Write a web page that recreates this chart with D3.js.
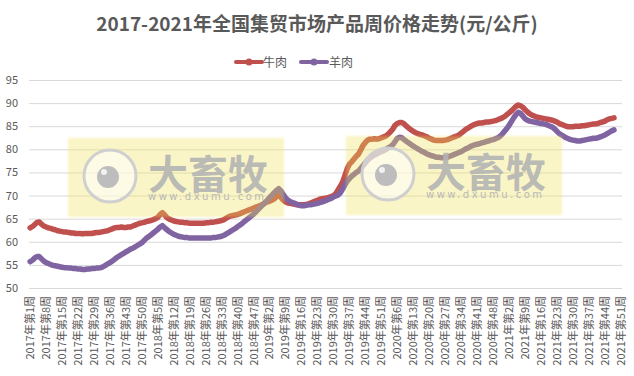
<!DOCTYPE html>
<html><head><meta charset="utf-8">
<script src="https://cdn.jsdelivr.net/npm/d3@7"></script>
<style>body{margin:0;background:#fff}svg{display:block}</style>
</head><body>
<svg id="c" width="634" height="376"></svg>
<script>
const title = "2017-2021年全国集贸市场产品周价格走势(元/公斤)";
const years = [2017, 2018, 2019, 2020, 2021];
const weeksInYear = [52, 52, 52, 53, 51];
const seriesNames = ["牛肉", "羊肉"];
const seriesColors = ["#C0504D", "#8064A2"];
const yTicks = [50, 55, 60, 65, 70, 75, 80, 85, 90, 95];
const labelStep = 7;
const watermarkText = "大畜牧";
const watermarkUrl = "www.dxumu.com";

const beef = [
63.0,63.3,63.7,64.2,64.3,63.8,63.4,63.2,63.0,62.9,62.7,62.6,62.4,62.3,62.2,62.1,62.1,62.0,61.9,61.9,
61.8,61.8,61.8,61.7,61.8,61.8,61.8,61.8,61.9,62.0,62.0,62.1,62.2,62.3,62.4,62.6,62.8,63.0,63.1,63.1,
63.2,63.1,63.1,63.2,63.2,63.4,63.6,63.8,64.0,64.1,64.2,64.4,64.5,64.6,64.8,65.0,65.3,65.9,66.3,65.8,
65.2,64.9,64.7,64.5,64.4,64.3,64.2,64.2,64.1,64.1,64.0,64.0,64.0,64.0,64.0,64.0,64.0,64.1,64.1,64.2,
64.2,64.3,64.4,64.5,64.6,64.8,65.1,65.4,65.6,65.7,65.8,65.9,66.1,66.3,66.5,66.7,66.9,67.1,67.3,67.5,
67.7,67.9,68.1,68.4,68.6,68.8,69.0,69.3,69.7,70.1,69.6,69.0,68.6,68.4,68.3,68.2,68.1,68.0,68.0,68.0,
68.0,68.1,68.2,68.4,68.6,68.8,69.0,69.2,69.3,69.4,69.5,69.6,69.8,70.0,70.4,71.2,72.0,72.9,74.3,75.8,
76.8,77.3,77.9,78.5,79.0,79.9,80.9,81.5,82.0,82.2,82.2,82.3,82.2,82.3,82.5,82.7,82.9,83.3,83.8,84.4,
85.2,85.6,85.8,85.8,85.5,85.0,84.6,84.2,83.9,83.6,83.4,83.2,83.1,82.9,82.7,82.4,82.2,82.0,81.9,81.9,
81.9,81.9,82.0,82.1,82.3,82.5,82.7,82.9,83.1,83.5,83.9,84.3,84.6,84.9,85.2,85.4,85.6,85.7,85.7,85.8,
85.9,85.9,86.0,86.1,86.2,86.4,86.6,86.8,87.1,87.5,87.9,88.3,88.8,89.3,89.6,89.4,89.1,88.6,88.1,87.7,
87.4,87.2,87.0,86.9,86.8,86.7,86.6,86.5,86.4,86.3,86.1,85.9,85.6,85.4,85.2,85.0,84.9,84.9,84.9,85.0,
85.0,85.0,85.1,85.1,85.2,85.3,85.4,85.5,85.5,85.6,85.8,85.9,86.1,86.4,86.6,86.7,86.8
];
const mutton = [
55.7,56.0,56.5,56.8,56.8,56.3,55.8,55.5,55.3,55.1,54.9,54.8,54.7,54.6,54.5,54.4,54.4,54.3,54.3,54.2,
54.2,54.1,54.1,54.0,54.0,54.1,54.1,54.2,54.2,54.3,54.3,54.4,54.6,54.9,55.2,55.5,55.8,56.2,56.6,56.9,
57.2,57.5,57.8,58.1,58.4,58.6,58.9,59.2,59.5,59.8,60.3,60.8,61.1,61.5,61.9,62.3,62.7,63.2,63.5,63.0,
62.6,62.2,61.9,61.6,61.4,61.2,61.1,61.0,60.9,60.9,60.8,60.8,60.8,60.8,60.8,60.8,60.8,60.8,60.8,60.8,
60.9,60.9,61.0,61.1,61.2,61.4,61.7,62.0,62.3,62.6,62.9,63.3,63.6,64.0,64.4,64.8,65.2,65.6,66.0,66.5,
67.0,67.5,68.0,68.5,69.0,69.6,70.1,70.6,71.1,71.5,71.0,70.2,69.5,69.0,68.7,68.5,68.3,68.1,67.9,67.8,
67.8,67.9,68.0,68.0,68.1,68.2,68.3,68.5,68.6,68.8,69.0,69.2,69.4,69.7,69.9,70.1,70.6,71.4,72.3,73.1,
73.7,74.2,74.6,75.0,75.3,75.9,76.5,77.1,77.7,78.1,78.5,78.8,79.0,79.3,79.5,79.7,80.0,80.3,80.6,81.0,
81.7,82.4,82.6,82.5,82.1,81.7,81.4,81.0,80.7,80.4,80.1,79.8,79.5,79.3,79.0,78.8,78.6,78.5,78.3,78.3,
78.2,78.2,78.3,78.3,78.5,78.7,78.9,79.1,79.3,79.5,79.8,80.1,80.3,80.6,80.8,81.0,81.1,81.2,81.4,81.5,
81.7,81.8,82.0,82.1,82.3,82.5,82.8,83.3,83.9,84.5,85.2,86.0,86.8,87.5,88.0,87.8,87.2,86.6,86.3,86.1,
86.0,85.9,85.8,85.7,85.6,85.5,85.4,85.2,85.0,84.8,84.4,83.9,83.4,83.1,82.8,82.5,82.3,82.1,82.0,81.9,
81.8,81.8,81.9,82.0,82.1,82.2,82.3,82.4,82.4,82.5,82.7,82.9,83.1,83.4,83.7,84.0,84.2
];

// categories: 2017年第1周 ... 2021年第51周
const categories = [];
years.forEach((y, k) => { for (let w = 1; w <= weeksInYear[k]; w++) categories.push(y + "年第" + w + "周"); });

const svg = d3.select("#c");
const W = 634, H = 376;
const plot = {left: 29, right: 622, top: 80, bottom: 288};
const cjk = "'Noto Sans CJK SC','Noto Sans',sans-serif";
const textColor = "#595959";

const x = d3.scaleBand().domain(categories).range([plot.left, plot.right]);
const xc = c => x(c) + x.bandwidth() / 2;
const y = d3.scaleLinear().domain([50, 95]).range([plot.bottom, plot.top]);

// title
svg.append("text").attr("x", W / 2).attr("y", 31).attr("text-anchor", "middle")
  .attr("font-family", cjk).attr("font-weight", "bold").attr("font-size", 19)
  .attr("fill", textColor).text(title);

// gridlines + y axis
const yAxis = d3.axisLeft(y).tickValues(yTicks).tickSize(-(plot.right - plot.left)).tickPadding(11);
const gy = svg.append("g").attr("transform", `translate(${plot.left},0)`).call(yAxis);
gy.select(".domain").remove();
gy.selectAll(".tick line").attr("stroke", "#d9d9d9").attr("stroke-width", 1);
gy.selectAll(".tick text").attr("font-family", cjk).attr("font-size", 11).attr("fill", textColor);

// x axis labels
const xTickVals = categories.filter((d, i) => i % labelStep === 0);
const xAxis = d3.axisBottom(x).tickValues(xTickVals).tickSize(0).tickPadding(0);
const gx = svg.append("g").attr("transform", `translate(0,${plot.bottom})`).call(xAxis);
gx.select(".domain").remove();
gx.selectAll(".tick text")
  .attr("font-family", cjk).attr("font-size", 11).attr("fill", textColor)
  .attr("text-anchor", "end")
  .attr("transform", "translate(0,8) rotate(-90)")
  .attr("dx", 0).attr("dy", "0.35em").attr("y", 0).attr("x", 0);

// lines
const series = [beef, mutton];
const line = d3.line().x((d, i) => xc(categories[i])).y(d => y(d)).curve(d3.curveLinear);
series.forEach((s, k) => {
  svg.append("path").datum(s).attr("d", line).attr("fill", "none")
    .attr("stroke", seriesColors[k]).attr("stroke-width", 5.5)
    .attr("stroke-linejoin", "round").attr("stroke-linecap", "round");
});

// legend
const legendItems = [{x: 236, tx: 263}, {x: 301, tx: 329}];
seriesNames.forEach((name, k) => {
  const g = svg.append("g");
  const lx = legendItems[k].x;
  g.append("line").attr("x1", lx).attr("x2", lx + 26).attr("y1", 62).attr("y2", 62)
    .attr("stroke", seriesColors[k]).attr("stroke-width", 4).attr("stroke-linecap", "round");
  g.append("circle").attr("cx", lx + 13).attr("cy", 62).attr("r", 3.5).attr("fill", seriesColors[k]);
  g.append("text").attr("x", legendItems[k].tx).attr("y", 66.5).attr("font-family", cjk)
    .attr("font-size", 12).attr("fill", textColor).text(name);
});

// watermarks
const defs = svg.append("defs");
defs.append("filter").attr("id", "soft").append("feGaussianBlur").attr("stdDeviation", 1.2);
const marks = [{x: 68, y: 138, w: 216, h: 79}, {x: 346, y: 136, w: 216, h: 79}];
marks.forEach(m => {
  const g = svg.append("g");
  g.append("rect").attr("x", m.x).attr("y", m.y).attr("width", m.w).attr("height", m.h)
    .attr("fill", "rgb(240,224,80)").attr("fill-opacity", 0.33).attr("filter", "url(#soft)");
  const cx = m.x + 42, cy = m.y + 38;
  g.append("circle").attr("cx", cx).attr("cy", cy).attr("r", 26)
    .attr("fill", "#ffffff").attr("fill-opacity", 0.55)
    .attr("stroke", "#cfcfcf").attr("stroke-width", 3);
  g.append("circle").attr("cx", cx - 2).attr("cy", cy + 1).attr("r", 11).attr("fill", "#bdbdbd");
  g.append("circle").attr("cx", cx - 6).attr("cy", cy - 4).attr("r", 3).attr("fill", "#f2f2f2");
  g.append("text").attr("x", m.x + 80).attr("y", m.y + 51)
    .attr("font-family", cjk).attr("font-weight", "bold").attr("font-size", 40)
    .attr("fill", "#b3b3b3").attr("fill-opacity", 0.9)
    .attr("textLength", 120).attr("lengthAdjust", "spacing").text(watermarkText);
  g.append("text").attr("x", m.x + 80).attr("y", m.y + 62)
    .attr("font-family", "'DejaVu Sans',sans-serif").attr("font-size", 10)
    .attr("fill", "#b8b8b8").attr("textLength", 116).attr("lengthAdjust", "spacing").text(watermarkUrl);
});
</script>
</body></html>
